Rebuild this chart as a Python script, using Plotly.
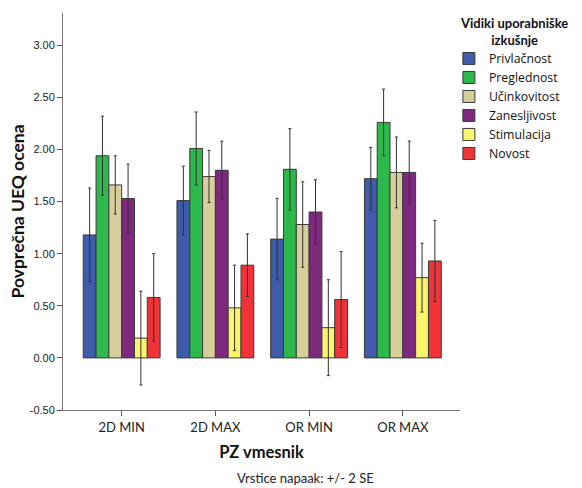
import plotly.graph_objects as go

categories = ["2D MIN", "2D MAX", "OR MIN", "OR MAX"]
series_names = ["Privlačnost", "Preglednost", "Učinkovitost", "Zanesljivost", "Stimulacija", "Novost"]
privlacnost = [1.18, 1.51, 1.14, 1.72]
preglednost = [1.94, 2.01, 1.81, 2.26]
ucinkovitost = [1.66, 1.74, 1.28, 1.78]
zanesljivost = [1.53, 1.80, 1.40, 1.78]
stimulacija = [0.19, 0.48, 0.29, 0.77]
novost = [0.58, 0.89, 0.56, 0.93]
err_privlacnost = [0.45, 0.33, 0.39, 0.30]
err_preglednost = [0.38, 0.35, 0.39, 0.32]
err_ucinkovitost = [0.28, 0.25, 0.41, 0.34]
err_zanesljivost = [0.33, 0.28, 0.31, 0.30]
err_stimulacija = [0.45, 0.41, 0.46, 0.33]
err_novost = [0.42, 0.30, 0.46, 0.39]
y_tickvals = [-0.5, 0, 0.5, 1.0, 1.5, 2.0, 2.5, 3.0]
y_ticklabels = ["-0.50", "0.00", "0.50", "1.00", "1.50", "2.00", "2.50", "3.00"]

values = [privlacnost, preglednost, ucinkovitost, zanesljivost, stimulacija, novost]
errors = [err_privlacnost, err_preglednost, err_ucinkovitost, err_zanesljivost, err_stimulacija, err_novost]
colors = ["#3F5BAA", "#2DB84B", "#D6CF9B", "#7D2A7E", "#FBF56E", "#EF3339"]

fig = go.Figure()
for name, vals, errs, col in zip(series_names, values, errors, colors):
    fig.add_trace(go.Bar(
        name=name, x=categories, y=vals,
        marker=dict(color=col, line=dict(color="#3a3a3a", width=1)),
        error_y=dict(type="data", array=errs, visible=True, color="#333333", thickness=1, width=1.5),
    ))

fig.update_layout(
    template="simple_white",
    width=582, height=488,
    margin=dict(l=63, r=122, t=13, b=78, autoexpand=False),
    barmode="group", bargap=0.18, bargroupgap=0,
    plot_bgcolor="white", paper_bgcolor="white",
    font=dict(family="Lato, Open Sans, sans-serif", color="#222222"),
    showlegend=True,
    legend=dict(x=0.972, y=0.922, xanchor="left", yanchor="top",
                font=dict(size=12.3, family="Open Sans, sans-serif", color="#111111"),
                itemwidth=30, tracegroupgap=0, bgcolor="rgba(0,0,0,0)"),
    xaxis=dict(range=[-0.626, 3.61], automargin=False, showline=True, linecolor="#777777", linewidth=1,
               ticks="outside", ticklen=5, tickcolor="#555555", showgrid=False,
               tickfont=dict(size=13, family="Lato, sans-serif", color="#222222"),
               title=dict(text="<b>PZ vmesnik</b>", font=dict(size=16.5, family="Lato, sans-serif", color="#111111"), standoff=12)),
    yaxis=dict(range=[-0.5, 3.31], automargin=False, showline=True, linecolor="#777777", linewidth=1,
               showgrid=False, zeroline=False,
               ticks="outside", ticklen=5, tickcolor="#555555",
               tickvals=y_tickvals, ticktext=y_ticklabels,
               tickfont=dict(size=11, family="Liberation Sans, Arial, sans-serif", color="#222222"),
               title=dict(text="<b>Povprečna UEQ ocena</b>", font=dict(size=17.5, family="Lato, sans-serif", color="#111111"), standoff=0)),
    annotations=[
        dict(text="<b>Vidiki uporabniške<br>izkušnje</b>", xref="paper", yref="paper",
             x=1.137, y=1.0, xanchor="center", yanchor="top", showarrow=False,
             font=dict(size=13, family="Lato, sans-serif", color="#111111")),
        dict(text="Vrstice napaak: +/- 2 SE", xref="paper", yref="paper",
             x=0.61, y=-0.196, xanchor="center", yanchor="bottom", showarrow=False,
             font=dict(size=13, family="Lato, sans-serif", color="#222222")),
    ],
)

fig.write_html("out.html", config={"displayModeBar": False},
               post_script="document.body.style.margin='0';document.body.style.padding='0';")
